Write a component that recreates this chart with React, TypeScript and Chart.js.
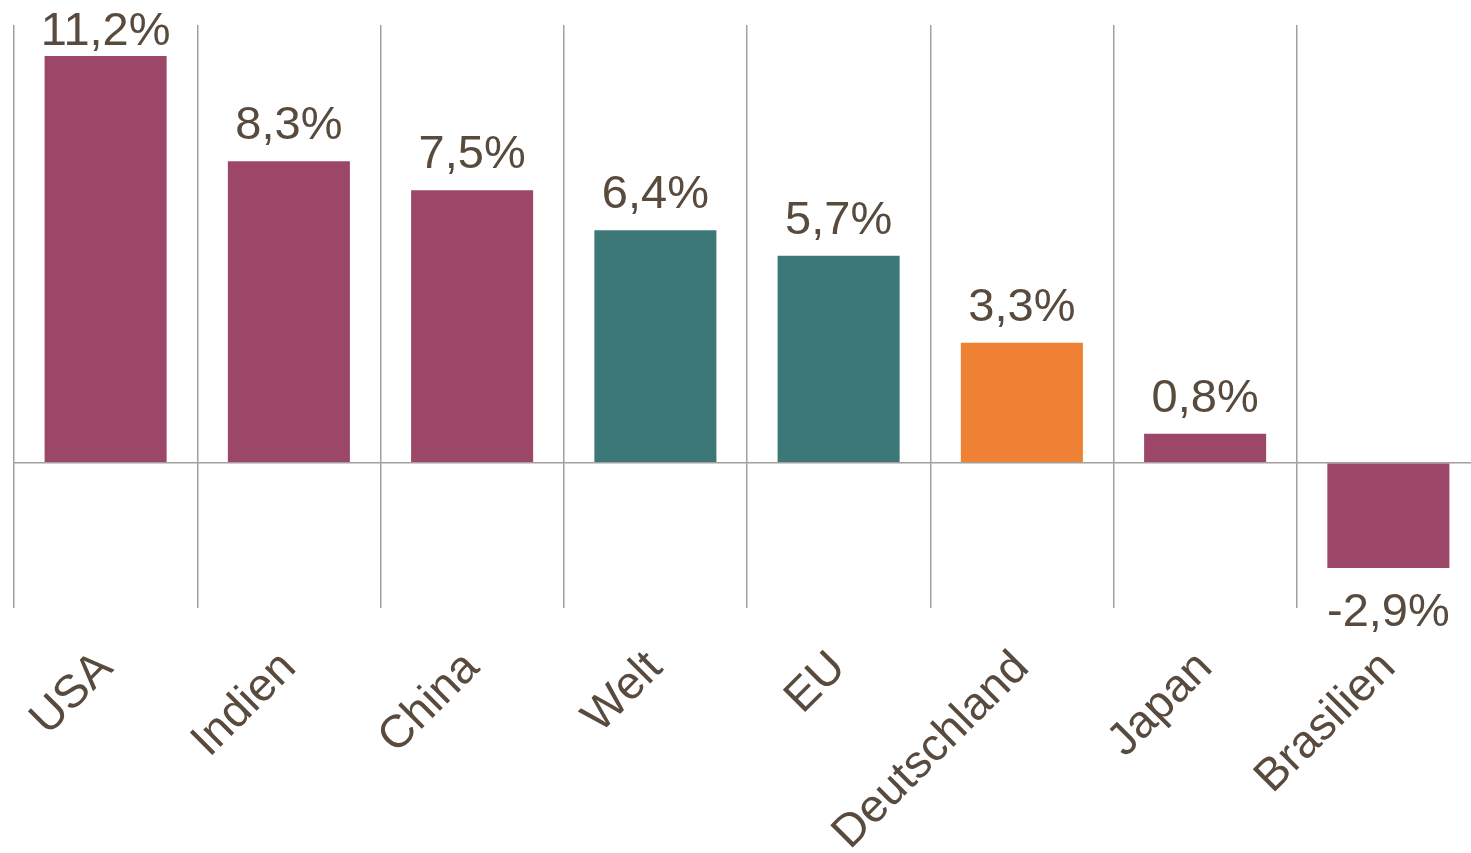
import React, { useEffect, useRef } from "react";
import { Chart, registerables } from "chart.js";

Chart.register(...registerables);

const categories = ["USA", "Indien", "China", "Welt", "EU", "Deutschland", "Japan", "Brasilien"];
const values = [11.2, 8.3, 7.5, 6.4, 5.7, 3.3, 0.8, -2.9];
const barColors = ["#9c4767", "#9c4767", "#9c4767", "#3d7878", "#3d7878", "#ee8133", "#9c4767", "#9c4767"];
const yMin = -4;
const yMax = 12.05;

const TEXT = "#594a3e";
const GRID = "#a39f9b";
const FONT = "'Liberation Sans', Arial, sans-serif";

const fmt = (v: number) => v.toFixed(1).replace(".", ",") + "%";

const valueLabels = {
  id: "valueLabels",
  afterDatasetsDraw(chart: any) {
    const ctx = chart.ctx;
    const meta = chart.getDatasetMeta(0);
    ctx.save();
    ctx.fillStyle = TEXT;
    ctx.font = `47px ${FONT}`;
    ctx.textAlign = "center";
    ctx.textBaseline = "alphabetic";
    meta.data.forEach((bar: any, i: number) => {
      const v = values[i];
      const y = v >= 0 ? Math.max(bar.y - 22, 45) : bar.y + 58;
      ctx.fillText(fmt(v), bar.x, y);
    });
    ctx.restore();
  },
};

export default function App() {
  const ref = useRef<HTMLCanvasElement>(null);
  useEffect(() => {
    if (!ref.current) return;
    const chart = new Chart(ref.current, {
      type: "bar",
      data: {
        labels: categories,
        datasets: [
          {
            data: values,
            backgroundColor: barColors,
            barPercentage: 0.666,
            categoryPercentage: 1,
          },
        ],
      },
      options: {
        responsive: false,
        animation: false,
        layout: { padding: { left: 14, top: 25, right: 0, bottom: 0 } },
        plugins: { legend: { display: false }, tooltip: { enabled: false } },
        scales: {
          x: {
            grid: { display: true, offset: true, color: GRID, lineWidth: 1.5, drawTicks: false },
            border: { display: false },
            ticks: {
              autoSkip: false,
              maxRotation: 45,
              minRotation: 45,
              padding: 33,
              color: TEXT,
              font: { family: FONT, size: 46 },
            },
            afterFit: (s: any) => {
              s.height = 245;
            },
          },
          y: {
            min: yMin,
            max: yMax,
            ticks: { display: false, stepSize: 1 },
            border: { display: false },
            grid: {
              drawTicks: false,
              lineWidth: 1.5,
              color: (c: any) => (c.tick && c.tick.value === 0 ? GRID : "rgba(0,0,0,0)"),
            },
            afterFit: (s: any) => {
              s.width = 0;
            },
          },
        },
      },
      plugins: [valueLabels],
    });
    return () => chart.destroy();
  }, []);
  return (
    <div style={{ position: "absolute", left: 0, top: 0, width: 1471, height: 853, overflow: "hidden", background: "#fff" }}>
      <canvas ref={ref} width={1480} height={853} style={{ display: "block" }} />
    </div>
  );
}
